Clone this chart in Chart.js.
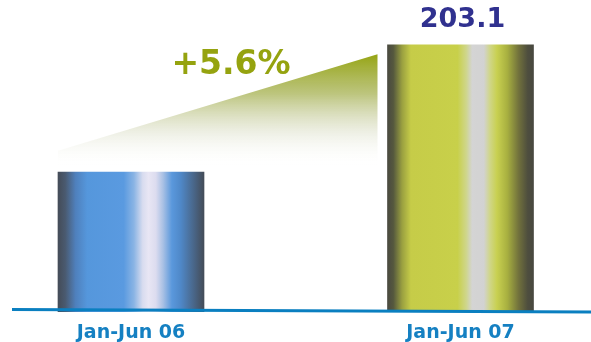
<!DOCTYPE html>
<html lang="en">
<head>
<meta charset="UTF-8">
<title>Jan-Jun 06 vs Jan-Jun 07</title>
<style>
  html, body { margin: 0; padding: 0; background: #fff; }
  #wrap { width: 591px; height: 342px; }
</style>
</head>
<body>
<div id="wrap"><canvas id="myChart" width="591" height="342"></canvas></div>

<script src="https://cdn.jsdelivr.net/npm/chart.js"></script>
<script>
const categories = ['Jan-Jun 06', 'Jan-Jun 07'];
const values = [192.3, 203.1];
const valueLabels = ['', '203.1'];

const FONT = '"DejaVu Sans", Verdana, sans-serif';

// horizontal "cylinder" gradients for each bar
const barStops = [
  [[0, '#444c58'], [0.05, '#4a5a70'], [0.12, '#4f80bc'], [0.2, '#5597dc'], [0.45, '#5a9ae0'],
   [0.52, '#8ab4e4'], [0.58, '#d8dcef'], [0.62, '#e8e6f4'], [0.67, '#dcdcef'], [0.72, '#a8c0e4'],
   [0.78, '#5a98dc'], [0.84, '#4f88c8'], [0.92, '#4a6a90'], [1, '#444c58']],
  [[0, '#4a4a40'], [0.04, '#55583e'], [0.10, '#9aa040'], [0.16, '#c6cc48'], [0.48, '#c8d04a'],
   [0.54, '#cfd68c'], [0.58, '#d4d4d4'], [0.66, '#d2d2d2'], [0.70, '#d0d68a'], [0.75, '#c8d050'],
   [0.82, '#a8b040'], [0.9, '#70703c'], [0.96, '#4e4e3e'], [1, '#484840']]
];
const BAR_W = 146;

function barFill(c) {
  const chart = c.chart;
  if (!chart.chartArea) return '#5a9ae0';
  const x = chart.scales.x.getPixelForValue(c.dataIndex);
  const g = chart.ctx.createLinearGradient(x - BAR_W / 2, 0, x + BAR_W / 2, 0);
  barStops[c.dataIndex].forEach(s => g.addColorStop(s[0], s[1]));
  return g;
}

// growth wedge drawn behind the bars
const wedge = {
  id: 'wedge',
  beforeDatasetsDraw(chart) {
    const { ctx, scales: { x, y } } = chart;
    const xl = x.getPixelForValue(0) - BAR_W / 2;
    const xr = x.getPixelForValue(1) - BAR_W / 2 - 10;
    const yl = y.getPixelForValue(194.1);
    const yr = y.getPixelForValue(202.3);
    const yb = y.getPixelForValue(values[0]);
    const g = ctx.createLinearGradient(0, yr, 0, yb - 5);
    g.addColorStop(0, 'rgba(150,165,20,1)');
    g.addColorStop(0.35, 'rgba(160,172,70,0.7)');
    g.addColorStop(0.7, 'rgba(200,205,170,0.3)');
    g.addColorStop(1, 'rgba(255,255,255,0)');
    ctx.save();
    ctx.beginPath();
    ctx.moveTo(xl, yl);
    ctx.lineTo(xr, yr);
    ctx.lineTo(xr, yb);
    ctx.lineTo(xl, yb);
    ctx.closePath();
    ctx.fillStyle = g;
    ctx.fill();
    ctx.restore();
  }
};

// baseline and texts over the bars
const decor = {
  id: 'decor',
  afterDatasetsDraw(chart) {
    const { ctx, chartArea, scales: { x, y } } = chart;
    const base = chartArea.bottom;
    ctx.save();
    ctx.strokeStyle = '#0a7fc0';
    ctx.lineWidth = 3;
    ctx.beginPath();
    ctx.moveTo(12, base - 1.5);
    ctx.lineTo(chart.width, base + 1);
    ctx.stroke();

    ctx.textAlign = 'center';
    ctx.textBaseline = 'middle';
    ctx.fillStyle = '#1580c2';
    ctx.font = 'bold 19px ' + FONT;
    categories.forEach((c, i) => ctx.fillText(c, x.getPixelForValue(i), 333));

    ctx.fillStyle = '#30318f';
    ctx.font = 'bold 27px ' + FONT;
    valueLabels.forEach((t, i) => {
      if (t) ctx.fillText(t, x.getPixelForValue(i) + 2, y.getPixelForValue(values[i]) - 25);
    });

    const growth = (values[1] / values[0] - 1) * 100;
    ctx.fillStyle = '#95a30f';
    ctx.font = 'bold 33px ' + FONT;
    ctx.fillText('+' + growth.toFixed(1) + '%', 231, 65);
    ctx.restore();
  }
};

new Chart(document.getElementById('myChart'), {
  type: 'bar',
  data: {
    labels: categories,
    datasets: [{
      data: values,
      backgroundColor: barFill,
      borderWidth: 0,
      barThickness: BAR_W,
      clip: { left: false, right: false, top: false, bottom: 1 }
    }]
  },
  options: {
    responsive: false,
    animation: false,
    layout: { padding: { left: 131, right: 130.5, top: 0, bottom: 31 } },
    plugins: { legend: { display: false }, tooltip: { enabled: false } },
    scales: {
      x: { display: false, offset: false },
      y: { display: false, min: 180.5, max: 206.9 }
    }
  },
  plugins: [wedge, decor]
});
</script>
</body>
</html>
